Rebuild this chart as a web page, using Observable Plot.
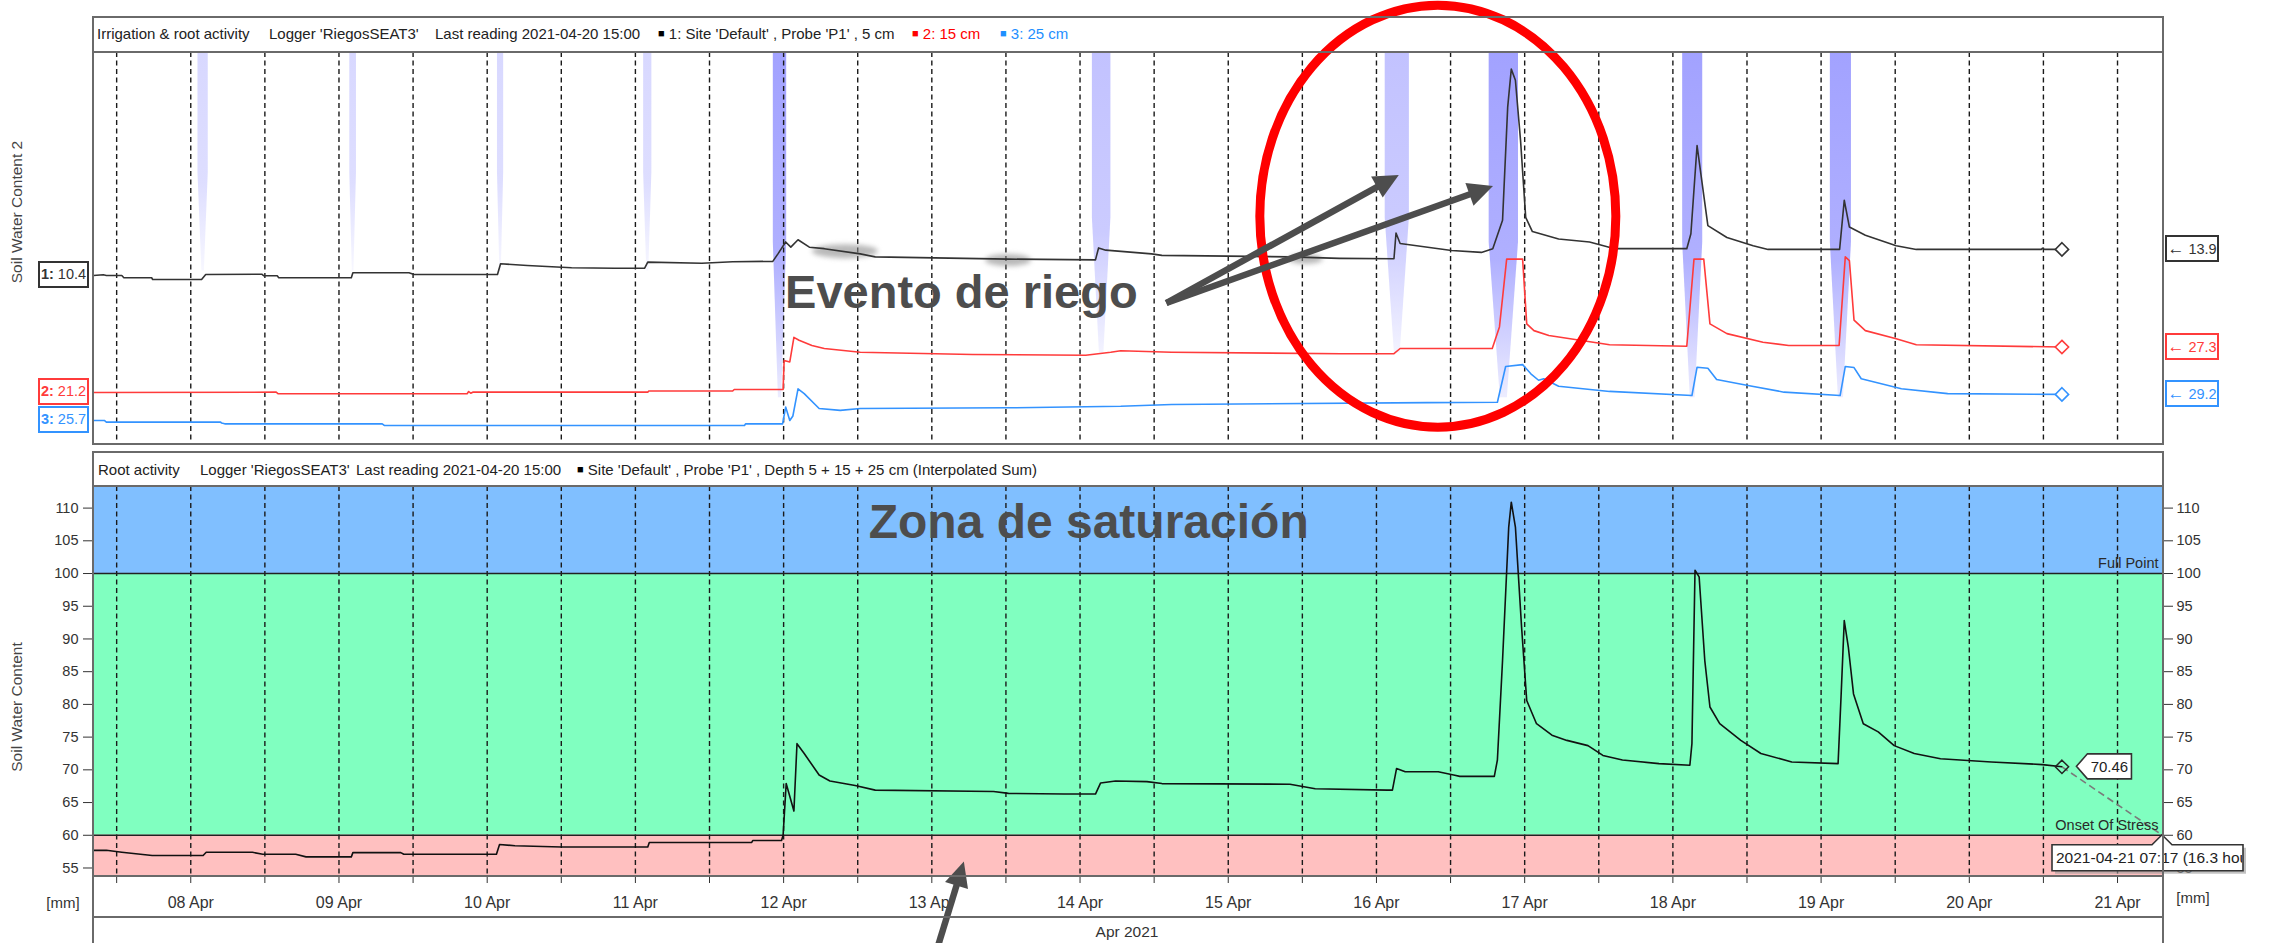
<!DOCTYPE html>
<html><head><meta charset="utf-8">
<script src="https://cdn.jsdelivr.net/npm/d3@7"></script>
<script src="https://cdn.jsdelivr.net/npm/@observablehq/plot@0.6"></script>
<style>
html,body{margin:0;padding:0;background:#fff;overflow:hidden;}
#wrap{position:relative;width:2274px;height:943px;overflow:hidden;font-family:"Liberation Sans",Arial,sans-serif;color:#222;}
.abs{position:absolute;white-space:pre;}
.frame{position:absolute;box-sizing:border-box;border:2px solid #6a6a6a;pointer-events:none;}
.hline{position:absolute;height:2px;background:#6a6a6a;pointer-events:none;}
#wrap svg{position:absolute;left:0;}
g[aria-label="y-axis tick label"]{font-size:14.5px;}
.lbox{position:absolute;box-sizing:border-box;height:27px;border:2px solid;font-size:14.5px;line-height:23px;text-align:center;background:#fff;white-space:nowrap;overflow:visible;padding:0;}
</style></head>
<body><div id="wrap"></div>
<script>
// ---------------- DATA ----------------
// Soil water content per sensor (time "MM-DD HH:MM", value)
const probe5cm = [
 ["04-07 08:15",10.4],["04-07 09:50",10.5],["04-07 10:20",10.4],["04-07 12:50",10.4],["04-07 13:10",10.1],
 ["04-07 17:40",10.1],["04-07 17:50",9.86],["04-08 01:45",9.86],["04-08 02:25",10.53],["04-08 11:30",10.57],
 ["04-08 11:50",10.36],["04-08 14:00",10.36],["04-08 14:15",10.1],["04-09 02:00",10.1],["04-09 02:15",10.76],
 ["04-09 11:20",10.76],["04-09 12:10",10.53],["04-10 01:40",10.53],["04-10 02:10",11.97],["04-10 06:30",11.74],
 ["04-10 13:40",11.43],["04-10 20:40",11.38],["04-11 01:30",11.38],["04-11 02:00",12.2],["04-11 10:45",12.05],
 ["04-11 15:45",12.25],["04-11 22:15",12.3],["04-11 23:05",13.3],["04-12 00:20",14.9],["04-12 01:10",14.2],
 ["04-12 02:20",15.2],["04-12 04:10",14.2],["04-12 06:35",14.0],["04-12 12:25",13.3],["04-12 14:50",12.9],
 ["04-13 12:25",12.6],["04-14 02:30",12.5],["04-14 03:00",14.1],["04-14 04:10",13.8],["04-14 11:35",13.3],
 ["04-14 13:15",13.1],["04-15 10:00",12.9],["04-15 18:00",12.7],["04-16 02:50",12.64],["04-16 03:10",16.1],
 ["04-16 03:50",14.7],["04-16 12:10",13.75],["04-16 17:00",13.5],["04-16 18:50",14.0],["04-16 20:25",17.8],
 ["04-16 21:15",33.0],["04-16 21:50",38.1],["04-16 22:30",36.6],["04-16 23:20",28.5],["04-17 00:10",18.2],
 ["04-17 01:15",16.3],["04-17 05:30",15.3],["04-17 10:30",14.9],["04-17 14:35",14.0],["04-18 02:15",14.0],
 ["04-18 02:55",16.0],["04-18 03:55",27.85],["04-18 04:40",23.2],["04-18 05:40",17.1],["04-18 08:45",15.5],
 ["04-18 13:00",14.4],["04-18 15:25",13.9],["04-19 03:00",13.9],["04-19 03:45",20.5],["04-19 04:35",16.9],
 ["04-19 07:10",15.8],["04-19 12:10",14.4],["04-19 15:25",13.9],["04-20 11:40",13.9],["04-20 11:50",14.05],
 ["04-20 12:10",13.9],["04-20 15:00",13.9]
];
const probe15cm = [
 ["04-07 08:15",21.2],["04-08 13:50",21.24],["04-08 14:10",21.02],["04-09 20:45",21.02],["04-09 21:00",21.33],
 ["04-09 21:20",21.1],["04-09 21:40",21.24],["04-11 02:00",21.24],["04-11 02:10",21.4],["04-11 15:45",21.4],
 ["04-11 16:00",21.6],["04-11 23:55",21.6],["04-12 00:05",25.5],["04-12 01:00",25.3],["04-12 01:40",28.6],
 ["04-12 02:30",28.2],["04-12 04:35",27.5],["04-12 06:35",27.1],["04-12 12:25",26.6],["04-13 06:35",26.3],
 ["04-14 00:55",26.2],["04-14 04:58",26.6],["04-14 06:35",26.8],["04-14 14:50",26.6],["04-15 18:15",26.4],
 ["04-16 02:50",26.4],["04-16 03:50",27.1],["04-16 18:45",27.1],["04-16 19:55",30.0],["04-16 21:05",39.1],
 ["04-16 23:40",39.1],["04-17 00:20",30.4],["04-17 01:30",29.5],["04-17 03:55",28.85],["04-17 13:45",27.6],
 ["04-18 02:15",27.4],["04-18 03:25",39.1],["04-18 05:00",39.1],["04-18 06:00",30.4],["04-18 08:45",29.1],
 ["04-18 14:35",27.95],["04-18 18:45",27.5],["04-19 02:55",27.5],["04-19 03:55",39.4],["04-19 04:35",38.9],
 ["04-19 05:20",30.9],["04-19 07:10",29.5],["04-19 12:10",28.4],["04-19 15:25",27.6],["04-20 15:00",27.3]
];
const probe25cm = [
 ["04-07 08:15",25.7],["04-07 10:00",25.7],["04-07 10:20",25.48],["04-08 04:50",25.48],["04-08 05:00",25.35],
 ["04-08 05:30",25.25],["04-09 07:00",25.25],["04-09 07:20",25.03],["04-11 17:40",25.03],["04-11 17:50",25.25],
 ["04-11 23:50",25.25],["04-12 00:20",27.5],["04-12 01:00",25.7],["04-12 01:30",26.3],["04-12 02:20",29.95],
 ["04-12 03:20",29.3],["04-12 05:45",27.3],["04-12 09:10",27.05],["04-12 12:25",27.3],["04-13 12:25",27.4],
 ["04-14 06:35",27.6],["04-14 14:50",27.85],["04-16 08:15",28.1],["04-16 19:35",28.15],["04-16 20:55",32.95],
 ["04-16 23:40",33.2],["04-17 01:00",31.97],["04-17 02:15",31.1],["04-17 03:05",31.3],["04-17 05:30",30.3],
 ["04-17 13:45",29.6],["04-18 03:05",29.05],["04-18 03:55",32.85],["04-18 05:40",32.7],["04-18 07:05",31.2],
 ["04-18 12:10",30.4],["04-18 18:00",29.5],["04-19 03:05",29.05],["04-19 03:55",32.95],["04-19 05:20",32.8],
 ["04-19 06:30",31.3],["04-19 13:00",29.95],["04-19 20:30",29.3],["04-20 15:00",29.2]
];
// Interpolated sum 5+15+25 cm [mm]
const rootSum = [
 ["04-07 08:15",57.7],["04-07 10:20",57.7],["04-07 12:50",57.4],["04-07 17:45",56.9],["04-08 02:00",56.9],
 ["04-08 02:30",57.4],["04-08 10:00",57.4],["04-08 11:40",57.1],["04-08 17:00",57.1],["04-08 18:40",56.7],
 ["04-09 02:00",56.7],["04-09 02:15",57.35],["04-09 10:00",57.35],["04-09 10:30",57.1],["04-10 01:30",57.1],
 ["04-10 02:00",58.6],["04-10 04:30",58.4],["04-10 12:00",58.2],["04-11 02:00",58.2],["04-11 02:15",58.9],
 ["04-11 18:50",58.9],["04-11 19:00",59.2],["04-11 23:40",59.2],["04-11 23:55",60.0],["04-12 00:25",67.9],
 ["04-12 01:40",63.7],["04-12 02:10",74.0],["04-12 03:20",72.5],["04-12 05:45",69.2],["04-12 07:30",68.3],
 ["04-12 11:35",67.6],["04-12 14:50",66.9],["04-13 10:00",66.7],["04-13 12:25",66.4],["04-13 21:30",66.3],
 ["04-14 02:30",66.3],["04-14 03:20",68.0],["04-14 05:45",68.3],["04-14 10:50",68.2],["04-14 13:15",67.9],
 ["04-15 10:00",67.8],["04-15 14:05",67.1],["04-16 01:45",66.9],["04-16 02:35",66.9],["04-16 03:15",70.2],
 ["04-16 04:40",69.7],["04-16 10:00",69.7],["04-16 12:30",69.2],["04-16 13:30",69.0],["04-16 19:05",69.0],
 ["04-16 19:35",71.5],["04-16 20:25",86.7],["04-16 21:25",107.1],["04-16 21:50",110.9],["04-16 22:30",107.1],
 ["04-16 23:30",91.8],["04-17 00:20",80.6],["04-17 01:55",77.05],["04-17 04:25",75.3],["04-17 06:50",74.5],
 ["04-17 10:15",73.7],["04-17 12:40",72.2],["04-17 15:50",71.5],["04-17 21:45",70.95],["04-18 02:45",70.7],
 ["04-18 03:05",74.0],["04-18 03:35",100.5],["04-18 04:15",99.5],["04-18 05:10",86.7],["04-18 06:00",79.6],
 ["04-18 07:35",77.05],["04-18 11:00",74.5],["04-18 14:15",72.5],["04-18 19:15",71.2],["04-19 02:45",70.95],
 ["04-19 03:15",81.6],["04-19 03:45",92.8],["04-19 04:25",88.7],["04-19 05:15",81.6],["04-19 06:50",77.05],
 ["04-19 09:15",75.8],["04-19 11:50",73.7],["04-19 15:05",72.5],["04-19 19:20",71.7],["04-20 03:35",71.2],
 ["04-20 11:50",70.8],["04-20 15:00",70.46]
];
// Irrigation events: start, end, intensity class (1 light .. 3 heavy)
const irrigations = [
 ["04-08 01:10","04-08 02:50",1],["04-09 01:45","04-09 02:50",1],["04-10 01:40","04-10 02:40",1],
 ["04-11 01:20","04-11 02:40",1],["04-11 22:20","04-12 00:30",3],["04-14 02:00","04-14 05:00",2],
 ["04-16 01:25","04-16 05:20",2],["04-16 18:15","04-16 23:00",3],["04-18 01:35","04-18 04:50",3],
 ["04-19 01:30","04-19 04:55",3]
];
// Zones of the root-activity chart [mm]
const zoneNames = ["Saturation","Readily available","Stress"];
const zoneLower = [100, 60, 53.7];
const zoneUpper = [113.3, 100, 60];
const thresholdLabels = ["Full Point","Onset Of Stress"];
const thresholdValues = [100, 60];
const stressForecast = ["04-21 07:17", 60];
const yTicks = [55,60,65,70,75,80,85,90,95,100,105,110];
const dayTickLabels = ["08 Apr","09 Apr","10 Apr","11 Apr","12 Apr","13 Apr","14 Apr","15 Apr","16 Apr","17 Apr","18 Apr","19 Apr","20 Apr","21 Apr"];
const dayTickDates = ["04-08 00:00","04-09 00:00","04-10 00:00","04-11 00:00","04-12 00:00","04-13 00:00","04-14 00:00","04-15 00:00","04-16 00:00","04-17 00:00","04-18 00:00","04-19 00:00","04-20 00:00","04-21 00:00"];
const seriesNames = ["1","2","3"];
const seriesDepths = ["5 cm","15 cm","25 cm"];
// Annotations (in data coordinates)
const annotRiego = {text:"Evento de riego", t:"04-12 00:14", v:8.1};
const annotArrows = [["04-14 14:03",6.64,"04-16 03:42",23.82],["04-14 14:03",6.64,"04-16 18:57",22.35]];
const annotEllipse = {t:"04-16 10:01", v:18.3};
const annotSmudges = [["04-12 10:00",13.6],["04-13 12:25",12.4],["04-15 12:36",12.55]];
const annotZona = {text:"Zona de saturación", t:"04-14 01:24", v:107.85};
const annotBottomArrow = ["04-13 00:53",42.4,"04-13 05:16",55.9];

// ---------------- SETUP ----------------
const parseFull = d3.utcParse("%Y-%m-%d %H:%M");
const parseT = s => parseFull("2021-" + s);
const rows = arr => arr.map(([t, v]) => ({t: parseT(t), v}));
const domainStart = parseT("04-07 08:15");
const domainEnd = parseT(stressForecast[0]);
const gridTimes = d3.utcHour.every(12).range(parseT("04-07 12:00"), parseT("04-21 00:01"));
const dayDates = dayTickDates.map(parseT);
const dayLabelMap = new Map(dayDates.map((d, i) => [+d, dayTickLabels[i]]));

const colors = {s1: "#333333", s2: "#ff3b3b", s3: "#3393ff"};
const offsets = {s1: 0, s2: -26.5, s3: -34.76};   // display offsets (stacked traces)
const series = [
  {key: "s1", data: rows(probe5cm)},
  {key: "s2", data: rows(probe15cm)},
  {key: "s3", data: rows(probe25cm)}
];
const bandStyle = {1: {c: "#d8d8ff", depth: 11}, 2: {c: "#c2c2ff", depth: 0}, 3: {c: "#a2a2ff", depth: -6}};
const zoneColors = ["#80bfff", "#80ffc0", "#ffc0c0"];

const wrap = document.getElementById("wrap");
const W = 2274;
const ML = 93, MR = W - 2162;
const font = "Liberation Sans, Arial, sans-serif";

// ---------------- TOP PANEL ----------------
const bandsMark = (index, {x, y}, values, dims) => {
  const g = d3.create("svg:g");
  const defs = g.append("defs");
  for (const [lvl, s] of Object.entries(bandStyle)) {
    const lg = defs.append("linearGradient").attr("id", "bandGrad" + lvl)
      .attr("x1", 0).attr("x2", 0).attr("y1", 0).attr("y2", 1);
    lg.append("stop").attr("offset", "0%").attr("stop-color", s.c);
    lg.append("stop").attr("offset", "60%").attr("stop-color", s.c).attr("stop-opacity", 0.85);
    lg.append("stop").attr("offset", "100%").attr("stop-color", s.c).attr("stop-opacity", 0.2);
  }
  const top = dims.marginTop;
  for (const [s, e, lvl] of irrigations) {
    const x1 = x(parseT(s)), x2 = x(parseT(e)), yb = y(bandStyle[lvl].depth);
    const xm = (x1 + x2) / 2, w = x2 - x1, yk = top + (yb - top) * 0.55;
    g.append("path")
      .attr("d", `M${x1},${top}H${x2}V${yk}L${xm + w * 0.12},${yb}H${xm - w * 0.12}L${x1},${yk}Z`)
      .attr("fill", `url(#bandGrad${lvl})`);
  }
  return g.node();
};
const smudgeMark = (index, {x, y}) => {
  const g = d3.create("svg:g").style("filter", "blur(2.5px)");
  const rx = [33, 23, 17], ry = [7, 6, 5];
  annotSmudges.forEach(([t, v], i) => {
    g.append("ellipse").attr("cx", x(parseT(t))).attr("cy", y(v)).attr("rx", rx[i]).attr("ry", ry[i])
      .attr("fill", "#8a8a8a").attr("opacity", 0.6);
  });
  return g.node();
};
function arrowsMark(list) {
  return (index, {x, y}) => {
    const g = d3.create("svg:g");
    for (const [t1, v1, t2, v2] of list) {
      const ax = x(parseT(t1)), ay = y(v1), bx = x(parseT(t2)), by = y(v2);
      const dx = bx - ax, dy = by - ay, L = Math.hypot(dx, dy), ux = dx / L, uy = dy / L;
      const hl = 25, hw = 12;
      const cx = bx - ux * hl, cy = by - uy * hl;
      g.append("line").attr("x1", ax).attr("y1", ay).attr("x2", cx + ux * 2).attr("y2", cy + uy * 2)
        .attr("stroke", "#4d4d4d").attr("stroke-width", 6.5);
      g.append("path").attr("d", `M${bx},${by}L${cx - uy * hw},${cy + ux * hw}L${cx + uy * hw},${cy - ux * hw}Z`)
        .attr("fill", "#4d4d4d");
    }
    return g.node();
  };
}
const ellipseMark = (index, {x, y}) => {
  const g = d3.create("svg:g");
  g.append("ellipse").attr("cx", x(parseT(annotEllipse.t))).attr("cy", y(annotEllipse.v))
    .attr("rx", 178).attr("ry", 211).attr("fill", "none").attr("stroke", "#ff0000").attr("stroke-width", 9);
  return g.node();
};

const topPlot = Plot.plot({
  width: W, height: 450,
  marginTop: 52, marginBottom: 7, marginLeft: ML, marginRight: MR,
  style: {background: "transparent", fontFamily: font, fontSize: "15px", overflow: "visible"},
  x: {type: "utc", domain: [domainStart, domainEnd], axis: null},
  y: {domain: [-12.15, 40.33], axis: null},
  marks: [
    bandsMark,
    Plot.ruleX(gridTimes, {stroke: "#1a1a1a", strokeWidth: 1.4, strokeDasharray: "5,3.5"}),
    smudgeMark,
    ...series.map(s => Plot.line(s.data, {x: "t", y: d => d.v + offsets[s.key], stroke: colors[s.key], strokeWidth: 1.6})),
    ...series.map(s => Plot.dot([s.data[s.data.length - 1]], {x: "t", y: d => d.v + offsets[s.key], symbol: "diamond2", r: 6, stroke: colors[s.key], fill: "white", strokeWidth: 1.6})),
    ellipseMark,
    Plot.text([annotRiego], {x: d => parseT(d.t), y: "v", text: "text", textAnchor: "start", fontSize: 47, fontWeight: "bold", fill: "#4d4d4d"}),
    arrowsMark(annotArrows)
  ]
});
topPlot.style.top = "0px";
wrap.appendChild(topPlot);

// ---------------- BOTTOM PANEL ----------------
const rootRows = rows(rootSum);
const last = rootRows[rootRows.length - 1];
const fT = parseT(stressForecast[0]), fV = stressForecast[1];
const zones = zoneNames.map((n, i) => ({n, lo: zoneLower[i], hi: zoneUpper[i], i}));
const thresholds = thresholdLabels.map((l, i) => ({l, v: thresholdValues[i]}));

const calloutMark = (index, {x, y}) => {
  const g = d3.create("svg:g").attr("font-family", font);
  const lx = x(last.t), ly = y(last.v), tip = lx + 15;
  g.append("path").attr("d", `M${tip},${ly}L${tip + 11},${ly - 12.5}H${tip + 55}V${ly + 12.5}H${tip + 11}Z`)
    .attr("fill", "#fff").attr("stroke", "#333").attr("stroke-width", 1.6);
  g.append("text").attr("x", tip + 33).attr("y", ly).attr("dy", "0.36em").attr("text-anchor", "middle")
    .attr("font-size", 15).attr("fill", "#222").text(d3.format(".2f")(last.v));
  const fx = x(fT), fy = y(fV);
  const bt = fy + 10, bb = fy + 36, bl = fx - 110, br = fx + 81;
  g.append("path").attr("d", `M${bl + 3},${bt + 3}H${br + 3}V${bb + 3}H${bl + 3}Z`).attr("fill", "#999").attr("opacity", 0.6);
  g.append("path").attr("d", `M${bl},${bt}H${fx - 10}L${fx},${fy}L${fx + 10},${bt}H${br}V${bb}H${bl}Z`)
    .attr("fill", "#fff").attr("stroke", "#333").attr("stroke-width", 1.6);
  g.append("clipPath").attr("id", "dateClip").append("rect").attr("x", bl).attr("y", bt).attr("width", br - bl - 1).attr("height", bb - bt);
  const hrs = (fT - last.t) / 3600000;
  g.append("text").attr("clip-path", "url(#dateClip)").attr("x", bl + 4).attr("y", (bt + bb) / 2).attr("dy", "0.36em")
    .attr("text-anchor", "start").attr("font-size", 15.5).attr("fill", "#222")
    .text(`${d3.utcFormat("%Y-%m-%d %H:%M")(fT)} (${hrs.toFixed(1)} hours)`);
  return g.node();
};

const botPlot = Plot.plot({
  width: W, height: 493,
  marginTop: 36, marginBottom: 67, marginLeft: ML, marginRight: MR,
  style: {background: "transparent", fontFamily: font, fontSize: "16px", color: "#333", overflow: "visible"},
  x: {type: "utc", domain: [domainStart, domainEnd]},
  y: {domain: [53.7, 113.3]},
  marks: [
    Plot.rect(zones, {x1: () => domainStart, x2: () => domainEnd, y1: "lo", y2: "hi", fill: d => zoneColors[d.i]}),
    Plot.ruleX(gridTimes, {stroke: "#1a1a1a", strokeWidth: 1.4, strokeDasharray: "5,3.5"}),
    Plot.ruleY(thresholdValues, {stroke: "#222", strokeWidth: 1.6}),
    Plot.axisY(yTicks, {anchor: "left", tickSize: 10, tickPadding: 5, label: null, fill: "#333"}),
    Plot.axisY(yTicks, {anchor: "right", tickSize: 10, tickPadding: 4, label: null, fill: "#333"}),
    Plot.axisX(gridTimes, {tickSize: 7, tickFormat: () => "", label: null}),
    Plot.axisX(dayDates, {tickSize: 0, tickPadding: 20, tickFormat: d => dayLabelMap.get(+d), label: null, fill: "#333"}),
    Plot.line(rootRows, {x: "t", y: "v", stroke: "#111", strokeWidth: 1.6}),
    Plot.link([{x1: last.t, y1: last.v, x2: fT, y2: fV}], {x1: "x1", y1: "y1", x2: "x2", y2: "y2", stroke: "#7a7a7a", strokeWidth: 1.6, strokeDasharray: "7,4"}),
    Plot.dot([last], {x: "t", y: "v", symbol: "diamond2", r: 6, stroke: "#222", fill: "none", strokeWidth: 1.5}),
    Plot.text(thresholds, {x: () => domainEnd, y: "v", text: "l", textAnchor: "end", dx: -4, dy: -10, fontSize: 14.5, fill: "#2a2a2a"}),
    Plot.text([annotZona], {x: d => parseT(d.t), y: "v", text: "text", textAnchor: "middle", fontSize: 48, fontWeight: "bold", fill: "#4d4d4d"}),
    calloutMark,
    arrowsMark([annotBottomArrow])
  ]
});
botPlot.style.top = "450px";
wrap.appendChild(botPlot);

// ---------------- FRAMES, HEADERS, LABELS ----------------
function el(html, css) {
  const d = document.createElement("div");
  d.className = "abs"; d.innerHTML = html; d.style.cssText += css;
  wrap.appendChild(d); return d;
}
function frame(css, cls) {
  const d = document.createElement("div"); d.className = cls; d.style.cssText = css; wrap.appendChild(d);
}
frame("left:92px;top:16px;width:2072px;height:429px;", "frame");
frame("left:92px;top:51px;width:2072px;", "hline");
frame("left:92px;top:451px;width:2072px;height:560px;", "frame");
frame("left:92px;top:485px;width:2072px;", "hline");
frame("left:92px;top:875px;width:2072px;", "hline");
frame("left:92px;top:916px;width:2072px;", "hline");

const sq = c => `<span style="color:${c};font-size:11px;position:relative;top:-2px">■</span>`;
const topHeader = [
  [97, "Irrigation &amp; root activity"],
  [269, "Logger 'RiegosSEAT3'"],
  [435, "Last reading 2021-04-20 15:00"],
  [658, `${sq("#000")} ${seriesNames[0]}: Site 'Default' , Probe 'P1' , ${seriesDepths[0]}`],
  [912, `<span style="color:#ff0000">${sq("#ff0000")} ${seriesNames[1]}: ${seriesDepths[1]}</span>`],
  [1000, `<span style="color:#1e8fff">${sq("#1e8fff")} ${seriesNames[2]}: ${seriesDepths[2]}</span>`]
];
topHeader.forEach(([x, h]) => el(h, `left:${x}px;top:25px;font-size:15px;line-height:18px;color:#222;`));
const botHeader = [
  [98, "Root activity"],
  [200, "Logger 'RiegosSEAT3'"],
  [356, "Last reading 2021-04-20 15:00"],
  [577, `${sq("#000")} Site 'Default' , Probe 'P1' , Depth 5 + 15 + 25 cm (Interpolated Sum)`]
];
botHeader.forEach(([x, h]) => el(h, `left:${x}px;top:461px;font-size:15px;line-height:18px;color:#222;`));

// rotated axis titles
el("Soil Water Content 2", "left:17px;top:212px;font-size:15.5px;color:#444;transform:translate(-50%,-50%) rotate(-90deg);");
el("Soil Water Content", "left:17px;top:707px;font-size:15.5px;color:#444;transform:translate(-50%,-50%) rotate(-90deg);");
el("[mm]", "left:63px;top:902px;font-size:15px;color:#333;transform:translate(-50%,-50%);");
el("[mm]", "left:2193px;top:897px;font-size:15px;color:#333;transform:translate(-50%,-50%);");
el("Apr 2021", "left:1127px;top:932px;font-size:15.5px;color:#333;transform:translate(-50%,-50%);");

// value boxes for the top traces
const ys = topPlot.scale("y");
series.forEach((s, i) => {
  const first = s.data[0].v, lastV = s.data[s.data.length - 1].v;
  const c = colors[s.key];
  const py1 = ys.apply(first + offsets[s.key]);
  const py2 = ys.apply(lastV + offsets[s.key]);
  const b1 = document.createElement("div");
  b1.className = "lbox";
  b1.style.cssText = `left:38px;top:${py1 - 13.5}px;width:51px;border-color:${c};color:${c};`;
  b1.innerHTML = `<b>${seriesNames[i]}:</b> ${d3.format(".1f")(first)}`;
  wrap.appendChild(b1);
  const b2 = document.createElement("div");
  b2.className = "lbox";
  b2.style.cssText = `left:2165px;top:${py2 - 13.5}px;width:54px;border-color:${c};color:${c};`;
  b2.innerHTML = `<b style="font-size:17px;color:${c}">&#8592;</b> ${d3.format(".1f")(lastV)}`;
  wrap.appendChild(b2);
});
</script>
</body></html>
